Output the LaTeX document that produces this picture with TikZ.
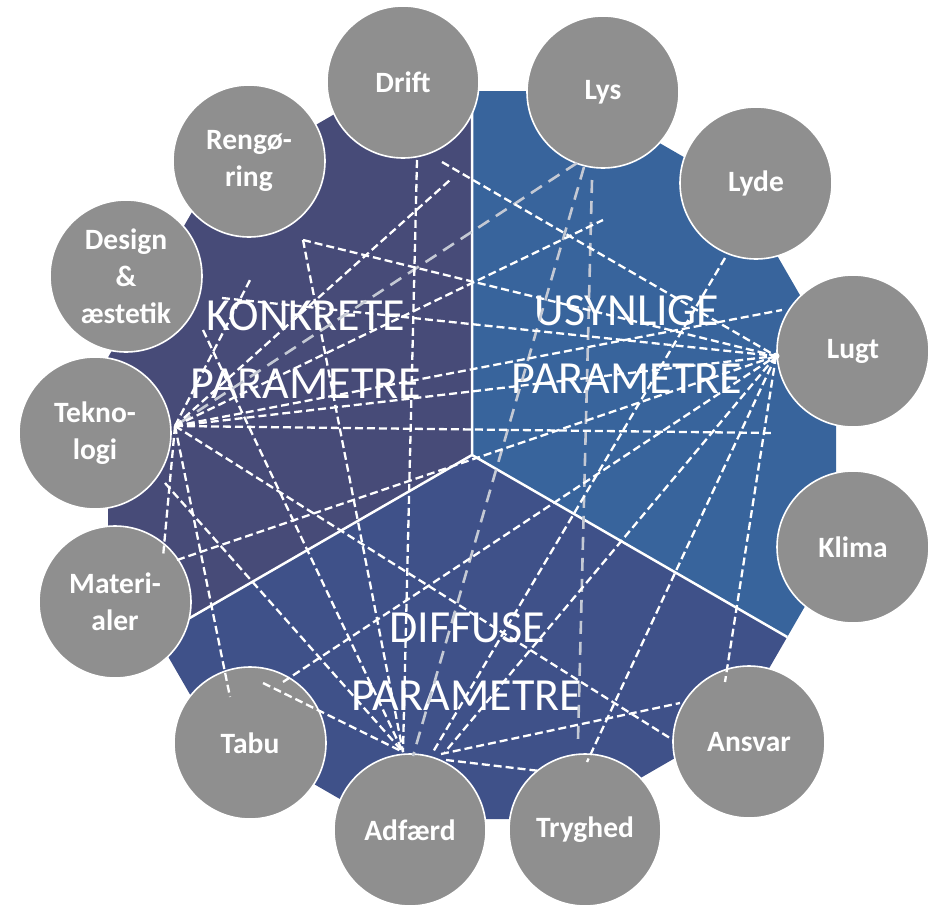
\documentclass[tikz,border=0pt]{standalone}
\usepackage{fontspec}
\setmainfont{Carlito}
\definecolor{konk}{RGB}{71,75,120}
\definecolor{usyn}{RGB}{56,100,156}
\definecolor{diff}{RGB}{63,81,137}
\definecolor{cgray}{RGB}{143,143,143}
\definecolor{glinecol}{RGB}{196,201,212}
\tikzset{
  param/.style={circle, fill=cgray, draw=white, line width=1.6pt, minimum size=152pt, inner sep=0pt,
    text=white, font=\fontsize{29.5}{37}\selectfont\bfseries, align=center},
  biglabel/.style={text=white, font=\fontsize{46}{68}\selectfont, align=center},
  wline/.style={white, line width=2.3pt, dash pattern=on 8pt off 4pt},
  grayline/.style={glinecol, line width=2.6pt, dash pattern=on 13pt off 8pt},
  divider/.style={white, line width=2.5pt},
}
\begin{document}
\begin{tikzpicture}[x=1pt,y=-1pt]
\useasboundingbox (0,0) rectangle (933,907);
% background 12-gon in three sectors
\coordinate (C) at (472,455);
\coordinate (M90) at (472,91);
\coordinate (M210) at (156.8,637);
\coordinate (M330) at (787.2,637);
\fill[konk] (C) -- (M90) -- (374.5,91) -- (205.6,188.6) -- (108,357.5) -- (108,552.5) -- (M210) -- cycle;
\fill[usyn] (C) -- (M330) -- (836,552.5) -- (836,357.5) -- (738.4,188.6) -- (569.5,91) -- (M90) -- cycle;
\fill[diff] (C) -- (M210) -- (205.6,721.4) -- (374.5,819) -- (569.5,819) -- (738.4,721.4) -- (M330) -- cycle;
\draw[divider] (C) -- (M90) (C) -- (M210) (C) -- (M330);
% section labels
\node[biglabel] (konkrete) at (306,350) {KONKRETE\\PARAMETRE};
\node[biglabel] (usynlige) at (627,345) {USYNLIGE\\PARAMETRE};
\node[biglabel] (diffuse) at (467,662) {DIFFUSE\\PARAMETRE};
% parameter circles
\node[param] (drift) at (403,82) {Drift};
\node[param] (lys) at (603,92) {Lys};
\node[param] (lyde) at (756,183) {Lyde};
\node[param] (lugt) at (853,351) {Lugt};
\node[param] (klima) at (853,547) {Klima};
\node[param] (ansvar) at (749,742) {Ansvar};
\node[param] (tryghed) at (585,830) {Tryghed};
\node[param] (adfaerd) at (410,830) {Adfærd};
\node[param] (tabu) at (250,743) {Tabu};
\node[param] (mat) at (115,602) {Materi-\\aler};
\node[param] (tek) at (95,433) {Tekno-\\logi};
\node[param] (design) at (126,276) {Design\\\&\\æstetik};
\node[param] (reng) at (249,161) {Rengø-\\ring};
% hubs and free ends
\coordinate (T) at (175,426);
\coordinate (L) at (776,356);
\coordinate (A) at (403,752);
\coordinate (Ar1) at (433,752);
\coordinate (Ar2) at (445,752);
\coordinate (Ar3) at (441,754);
\coordinate (Ar4) at (446,760);
\coordinate (Ag) at (413,756);
\coordinate (d1) at (417,160);
\coordinate (d2) at (442,162);
\coordinate (t1) at (450,180);
\coordinate (t2) at (603,220);
\coordinate (t3) at (250,280);
\coordinate (v) at (303,240);
\coordinate (k1) at (222,298);
\coordinate (k2) at (203,330);
\coordinate (m0) at (165,483);
\coordinate (m1) at (163,557);
\coordinate (m2) at (177,560);
\coordinate (b1) at (230,697);
\coordinate (b2) at (263,683);
\coordinate (b3) at (283,682);
\coordinate (r1) at (773,433);
\coordinate (r2) at (782,310);
\coordinate (an1) at (725,682);
\coordinate (an2) at (673,740);
\coordinate (an3) at (680,703);
\coordinate (ty1) at (540,771);
\coordinate (ty2) at (587,762);
\coordinate (lys1) at (577,163);
\coordinate (lys2) at (584,167);
\coordinate (lys3) at (592,180);
\coordinate (lys4) at (578,740);
\coordinate (ly) at (725,258);
% gray dashed lines
\draw[grayline] (lys1) -- (T);
\draw[grayline] (lys2) -- (Ag);
\draw[grayline] (lys3) -- (lys4);
% white dashed lines
\draw[wline] (T) -- (t1);
\draw[wline] (T) -- (t2);
\draw[wline] (T) -- (t3);
\draw[wline] (T) -- (L);
\draw[wline] (T) -- (r1);
\draw[wline] (T) -- (r2);
\draw[wline] (T) -- (m1);
\draw[wline] (T) -- (b1);
\draw[wline] (T) -- (an2);
\draw[wline] (d2) -- (L);
\draw[wline] (v) -- (L);
\draw[wline] (k1) -- (L);
\draw[wline] (m2) -- (L);
\draw[wline] (b3) -- (L);
\draw[wline] (L) -- (Ar2);
\draw[wline] (L) -- (ty2);
\draw[wline] (L) -- (an1);
\draw[wline] (d1) -- (A);
\draw[wline] (v) -- (A);
\draw[wline] (k2) -- (A);
\draw[wline] (m0) -- (A);
\draw[wline] (b2) -- (A);
\draw[wline] (ly) -- (Ar1);
\draw[wline] (Ar3) -- (an3);
\draw[wline] (Ar4) -- (ty1);
\fill[white] (L) circle (3.5);
\end{tikzpicture}
\end{document}
